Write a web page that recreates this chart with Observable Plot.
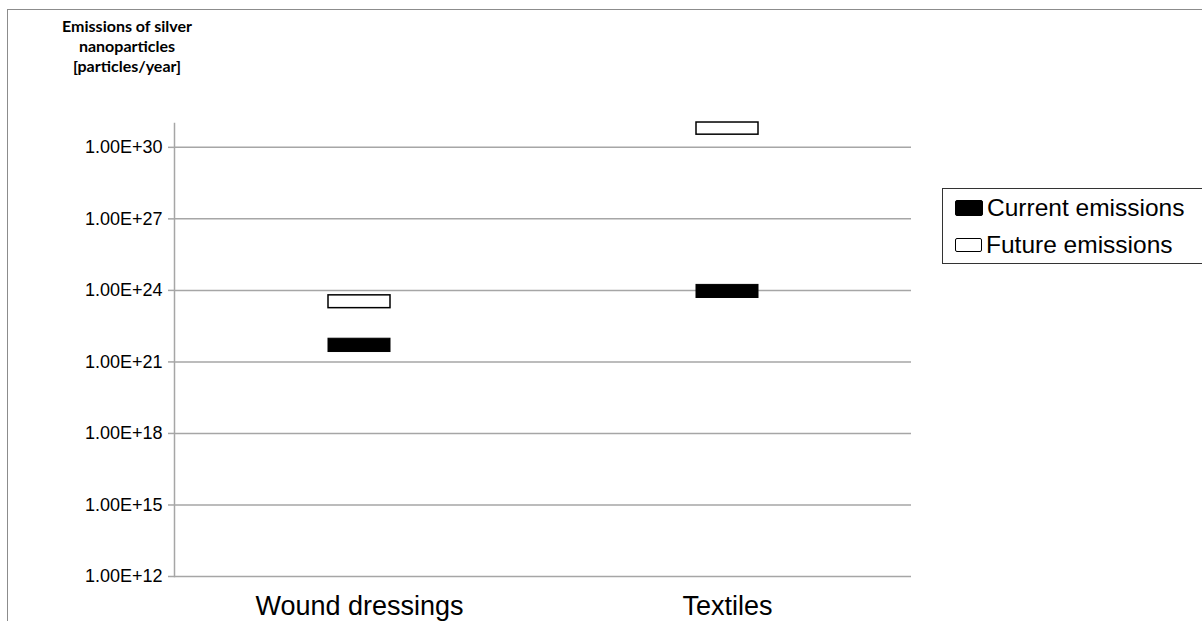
<!DOCTYPE html>
<html>
<head>
<meta charset="utf-8">
<script src="https://cdn.jsdelivr.net/npm/d3@7"></script>
<script src="https://cdn.jsdelivr.net/npm/@observablehq/plot@0.6"></script>
<style>
  html, body { margin: 0; padding: 0; background: #fff; }
  #wrap { position: relative; width: 1202px; height: 621px; overflow: hidden; background: #fff; }
  #border { position: absolute; left: 7px; top: 9px; width: 1300px; height: 700px; border-left: 1px solid #8c8c8c; border-top: 1px solid #8c8c8c; }
  #title { position: absolute; left: 27px; top: 16px; width: 200px; text-align: center; font-family: Lato, "Open Sans", sans-serif; font-weight: bold; font-size: 16px; line-height: 20px; color: #000; }
  #chart { position: absolute; left: 0; top: 0; }
  #legend { position: absolute; left: 942px; top: 188px; width: 300px; height: 74px; border: 1px solid #333; font-family: Arial, "Liberation Sans", sans-serif; font-size: 24.5px; color: #000; }
  .item { position: absolute; left: 12px; display: flex; align-items: center; white-space: nowrap; }
  .sw { width: 27px; height: 14px; margin-right: 4px; box-sizing: border-box; border: 1.5px solid #000; border-radius: 2px; }
</style>
</head>
<body>
<div id="wrap">
  <div id="border"></div>
  <div id="chart"></div>
  <div id="title"></div>
  <div id="legend"></div>
</div>
<script>
const categories = ["Wound dressings", "Textiles"];
const currentLow = [2.6e21, 4.8e23];
const currentHigh = [9.4e21, 1.7e24];
const futureLow = [1.8e23, 3.4e30];
const futureHigh = [6.2e23, 1.1e31];
const yTicks = [1e12, 1e15, 1e18, 1e21, 1e24, 1e27, 1e30];
const seriesNames = ["Current emissions", "Future emissions"];
const seriesFills = ["#000", "#fff"];
const titleLines = ["Emissions of silver", "nanoparticles", "[particles/year]"];

const current = categories.map((c, i) => ({category: c, low: currentLow[i], high: currentHigh[i]}));
const future = categories.map((c, i) => ({category: c, low: futureLow[i], high: futureHigh[i]}));

const chart = Plot.plot({
  width: 1202,
  height: 621,
  marginLeft: 174,
  marginRight: 291,
  marginTop: 123,
  marginBottom: 45,
  style: {background: "transparent", fontFamily: "Arial, 'Liberation Sans', sans-serif", color: "#000"},
  x: {domain: categories, padding: 0, axis: null},
  y: {type: "log", domain: [1e12, 1e31], axis: null},
  marks: [
    Plot.gridY(yTicks, {stroke: "#a6a6a6", strokeOpacity: 1, strokeWidth: 1.5}),
    Plot.frame({anchor: "left", stroke: "#a6a6a6", strokeWidth: 1.5}),
    Plot.axisY(yTicks, {
      tickFormat: d => "1.00E+" + Math.round(Math.log10(d)),
      tickSize: 6, tickPadding: 6, fontSize: 18,
      stroke: "#a6a6a6", strokeWidth: 1.5, fill: "#000", label: null
    }),
    Plot.barY(current, {x: "category", y1: "low", y2: "high", fill: seriesFills[0], stroke: "#000", strokeWidth: 1, insetLeft: 153, insetRight: 153}),
    Plot.barY(future, {x: "category", y1: "low", y2: "high", fill: seriesFills[1], stroke: "#000", strokeWidth: 1.5, insetLeft: 153, insetRight: 153}),
    Plot.axisX({tickSize: 0, tickPadding: 19, fontSize: 27, fill: "#000", label: null})
  ]
});
document.getElementById("chart").appendChild(chart);

document.getElementById("title").innerHTML = titleLines.join("<br>");

const legend = document.getElementById("legend");
seriesNames.forEach((name, i) => {
  const item = document.createElement("div");
  item.className = "item";
  item.style.top = (i === 0 ? 5 : 42) + "px";
  const sw = document.createElement("div");
  sw.className = "sw";
  sw.style.background = seriesFills[i];
  if (i === 0) { sw.style.height = "16px"; sw.style.width = "28px"; }
  item.appendChild(sw);
  const t = document.createElement("span");
  t.textContent = name;
  item.appendChild(t);
  legend.appendChild(item);
});
</script>
</body>
</html>
